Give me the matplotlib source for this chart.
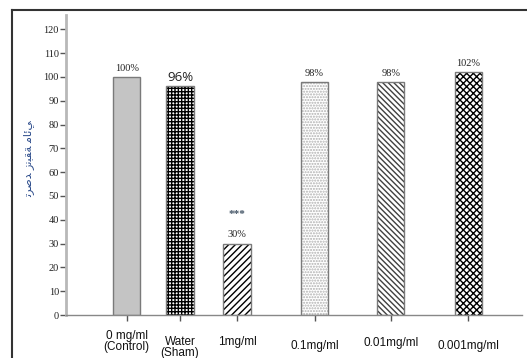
import matplotlib.pyplot as plt
from matplotlib.lines import Line2D
from matplotlib.transforms import ScaledTranslation

# data
groups = ["0 mg/ml\n(Control)", "Water\n(Sham)", "1mg/ml", "0.1mg/ml", "0.01mg/ml", "0.001mg/ml"]
viability = [100, 96, 30, 98, 98, 102]
pct_labels = ["100%", "96%", "30%", "98%", "98%", "102%"]
y_ticks = [0, 10, 20, 30, 40, 50, 60, 70, 80, 90, 100, 110, 120]
# "ترصد زنبقة مائي" written with presentation forms (no shaping in matplotlib)
y_title = "\uFE97\uFEAE\uFEBB\uFEAA \uFEAF\uFEE7\uFE92\uFED8\uFE94 \uFEE3\uFE8E\uFE8B\uFEF2"

# layout / style
xpos = [0, 0.70, 1.45, 2.47, 3.47, 4.49]
label_drop = [0, 4, 4, 7, 5, 7]  # extra downward shift of tick labels, points
fills = ["#c4c4c4", "white", "white", "white", "white", "white"]
hatches = [None, "+++++", "/////", "......", "\\\\\\\\\\\\", "xxxxx"]
hatch_cols = [None, "black", "black", "#b0b0b0", "#404040", "black"]

fig = plt.figure(figsize=(5.27, 3.58), dpi=100)
ax = fig.add_axes([0.125, 0.12, 0.866, 0.838])

for x, v, fc, h, hc in zip(xpos, viability, fills, hatches, hatch_cols):
    if h:
        ax.bar(x, v, width=0.36, color=fc, edgecolor=hc, hatch=h, linewidth=0)
    ax.bar(x, v, width=0.36, color=fc if not h else "none", edgecolor="#7a7a7a", linewidth=1.0)

serif = "Liberation Serif"
for i, (x, v, t) in enumerate(zip(xpos, viability, pct_labels)):
    if i == 1:
        ax.annotate(t, (x, v), xytext=(0, 2), textcoords="offset points",
                    ha="center", va="bottom", fontsize=9.5, family="Open Sans", color="#222222")
    else:
        ax.annotate(t, (x, v), xytext=(0, 3), textcoords="offset points",
                    ha="center", va="bottom", fontsize=7.5, family=serif, color="#222222")
# significance marker on the 1mg/ml bar
ax.annotate("***", (xpos[2], viability[2]), xytext=(0, 18), textcoords="offset points",
            ha="center", va="bottom", fontsize=8, family=serif, color="#445566", weight="bold")

ax.set_xlim(-0.8, 5.2)
ax.set_ylim(0, 126)
ax.set_yticks(y_ticks)
ax.set_yticklabels([str(t) for t in y_ticks], family=serif, fontsize=7.5, color="#222222")
ax.set_xticks(xpos)
ax.set_xticklabels(groups, family="Liberation Sans", fontsize=8.5, color="#111111",
                   va="top", linespacing=0.9)
ax.tick_params(axis="x", length=4, width=1, color="#555555", pad=7)
ax.tick_params(axis="y", length=4, width=1, color="#555555", pad=1)
for lab, d in zip(ax.get_xticklabels(), label_drop):
    lab.set_transform(lab.get_transform() + ScaledTranslation(0, -d / 72, fig.dpi_scale_trans))

for s in ["top", "right"]:
    ax.spines[s].set_visible(False)
ax.spines["left"].set_color("#b8b8b8")
ax.spines["left"].set_linewidth(2)
ax.spines["bottom"].set_color("#888888")
ax.spines["bottom"].set_linewidth(1)

ax.set_ylabel(y_title, fontsize=8, color="#2a4a8a", family="DejaVu Sans")
ax.yaxis.set_label_coords(-0.07, 0.52)

# outer frame lines (top and left)
fig.add_artist(Line2D([12 / 527, 1], [1 - 10 / 358] * 2, color="#333333", lw=1.5))
fig.add_artist(Line2D([12 / 527] * 2, [0, 1 - 10 / 358], color="#333333", lw=1.5))

fig.savefig("out.png", dpi=100)
